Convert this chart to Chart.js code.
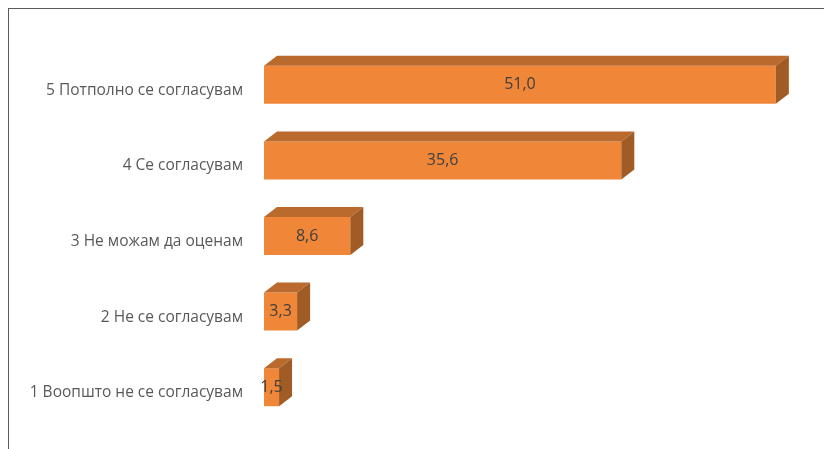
<!DOCTYPE html>
<html>
<head>
<meta charset="utf-8">
<script src="https://cdn.jsdelivr.net/npm/chart.js@4/dist/chart.umd.min.js"></script>
<style>
  html, body { margin: 0; padding: 0; background: #fff; overflow: hidden; }
  canvas { display: block; }
</style>
</head>
<body>
<canvas id="ocenkaChart" width="824" height="449"></canvas>
<script>
// categories, top to bottom
const categories = [
  "5 Потполно се согласувам",
  "4 Се согласувам",
  "3 Не можам да оценам",
  "2 Не се согласувам",
  "1 Воопшто не се согласувам"
];
const procent = [51.0, 35.6, 8.6, 3.3, 1.5];

const FRONT = "#EF8638";
const TOP = "#BA6A2C";
const SIDE = "#A15B24";
const DEPTH_X = 13;
const DEPTH_Y = 10;

// frame around the chart
const okvir = {
  id: "okvir",
  beforeDraw(chart) {
    const ctx = chart.ctx;
    ctx.save();
    ctx.strokeStyle = "#5a5a5a";
    ctx.lineWidth = 1;
    ctx.strokeRect(8.5, 8.5, 1000, 1000);
    ctx.restore();
  }
};

// top and side faces of each bar, then the value on the front face
const kocka = {
  id: "kocka",
  afterDatasetsDraw(chart) {
    const ctx = chart.ctx;
    const meta = chart.getDatasetMeta(0);
    ctx.save();
    meta.data.forEach(function (bar, i) {
      const p = bar.getProps(["x", "y", "base", "height"], true);
      const top = p.y - p.height / 2;
      const bottom = p.y + p.height / 2;

      ctx.fillStyle = TOP;
      ctx.beginPath();
      ctx.moveTo(p.base, top);
      ctx.lineTo(p.base + DEPTH_X, top - DEPTH_Y);
      ctx.lineTo(p.x + DEPTH_X, top - DEPTH_Y);
      ctx.lineTo(p.x, top);
      ctx.closePath();
      ctx.fill();

      ctx.fillStyle = SIDE;
      ctx.beginPath();
      ctx.moveTo(p.x, top);
      ctx.lineTo(p.x + DEPTH_X, top - DEPTH_Y);
      ctx.lineTo(p.x + DEPTH_X, bottom - DEPTH_Y);
      ctx.lineTo(p.x, bottom);
      ctx.closePath();
      ctx.fill();

      ctx.fillStyle = "#404040";
      ctx.font = "16px 'Open Sans', sans-serif";
      ctx.textAlign = "center";
      ctx.textBaseline = "middle";
      ctx.fillText(procent[i].toFixed(1).replace(".", ","), (p.base + p.x) / 2, p.y);
    });
    ctx.restore();
  }
};

new Chart(document.getElementById("ocenkaChart"), {
  type: "bar",
  data: {
    labels: categories,
    datasets: [
      {
        data: procent,
        backgroundColor: FRONT,
        borderWidth: 0,
        categoryPercentage: 1,
        barPercentage: 0.503,
      },
    ],
  },
  options: {
    indexAxis: "y",
    responsive: false,
    animation: false,
    layout: {
      padding: { top: 47, bottom: 24, right: 8, left: 0 },
    },
    scales: {
      x: {
        display: false,
        min: 0,
        max: 55,
      },
      y: {
        afterFit: function (scale) {
          scale.width = 264;
          // labels sit well inside the area, no extra room needed
          scale.paddingTop = 0;
          scale.paddingBottom = 0;
        },
        border: { display: false },
        grid: { display: false, drawTicks: false },
        ticks: {
          color: "#595959",
          padding: 21,
          labelOffset: 5.5,
          font: { family: "'Open Sans', sans-serif", size: 15.5 },
        },
      },
    },
    plugins: {
      legend: { display: false },
      tooltip: { enabled: false },
    },
  },
  plugins: [okvir, kocka],
});
</script>
</body>
</html>
